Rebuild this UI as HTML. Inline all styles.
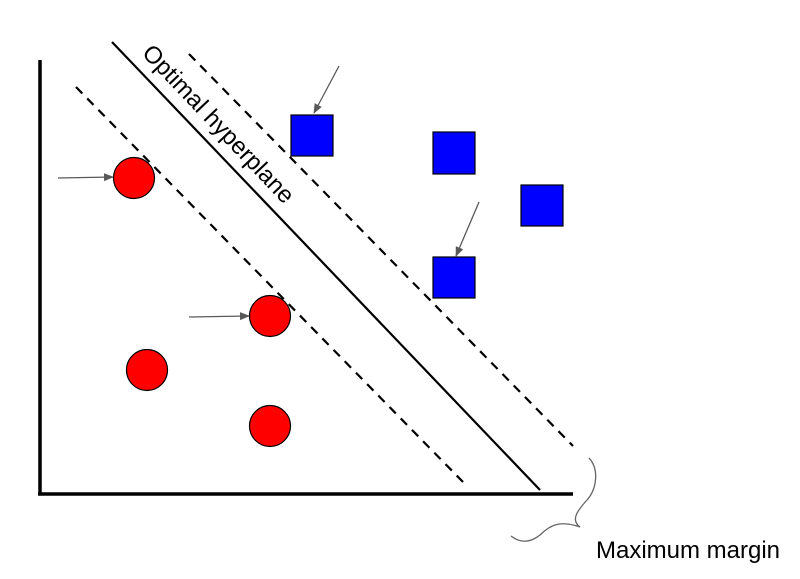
<!DOCTYPE html>
<html><head><style>html,body{margin:0;padding:0;background:#fff}svg{display:block}</style></head>
<body>
<svg width="800" height="579" viewBox="0 0 800 579" xmlns="http://www.w3.org/2000/svg">
<defs><marker id="a" markerWidth="10" markerHeight="8" refX="9" refY="4" orient="auto" markerUnits="userSpaceOnUse"><path d="M0,0 L10,4 L0,8 Z" fill="#595959"/></marker></defs>
<line x1="40" y1="60" x2="40" y2="495" stroke="#000" stroke-width="3.5"/>
<line x1="38" y1="494" x2="573" y2="494" stroke="#000" stroke-width="3.5"/>
<line x1="112" y1="42" x2="540" y2="490" stroke="#000" stroke-width="2.2"/>
<line x1="189" y1="54" x2="573" y2="446" stroke="#000" stroke-width="2.2" stroke-dasharray="9,7"/>
<line x1="76" y1="87" x2="463" y2="482" stroke="#000" stroke-width="2.2" stroke-dasharray="9,7"/>
<text x="0" y="0" transform="translate(141,54) rotate(46.5)" font-family="Liberation Sans, sans-serif" font-size="24">Optimal hyperplane</text>
<g fill="#0000ff" stroke="#000" stroke-width="1.2">
<rect x="291" y="115" width="42" height="41"/>
<rect x="433" y="132" width="42" height="42"/>
<rect x="521" y="185" width="42" height="41"/>
<rect x="433" y="257" width="42" height="41"/>
</g>
<g fill="#ff0000" stroke="#000" stroke-width="1.2">
<circle cx="134" cy="178" r="20.5"/>
<circle cx="270" cy="316" r="20.5"/>
<circle cx="147" cy="370" r="20.5"/>
<circle cx="270" cy="426" r="20.5"/>
</g>
<g stroke="#595959" stroke-width="1.3" marker-end="url(#a)">
<line x1="58" y1="178" x2="113" y2="177"/>
<line x1="189" y1="317" x2="249" y2="316"/>
<line x1="339" y1="66" x2="314" y2="113"/>
<line x1="479" y1="202" x2="456" y2="256"/>
</g>
<path d="M589,458 C600,470 596,490 587,500 C578,510 570,520 580,527 C560,520 550,525 540,535 C530,543 520,543 511,536" fill="none" stroke="#666" stroke-width="1.3"/>
<text x="596" y="558" font-family="Liberation Sans, sans-serif" font-size="24">Maximum margin</text>
</svg>
</body></html>
